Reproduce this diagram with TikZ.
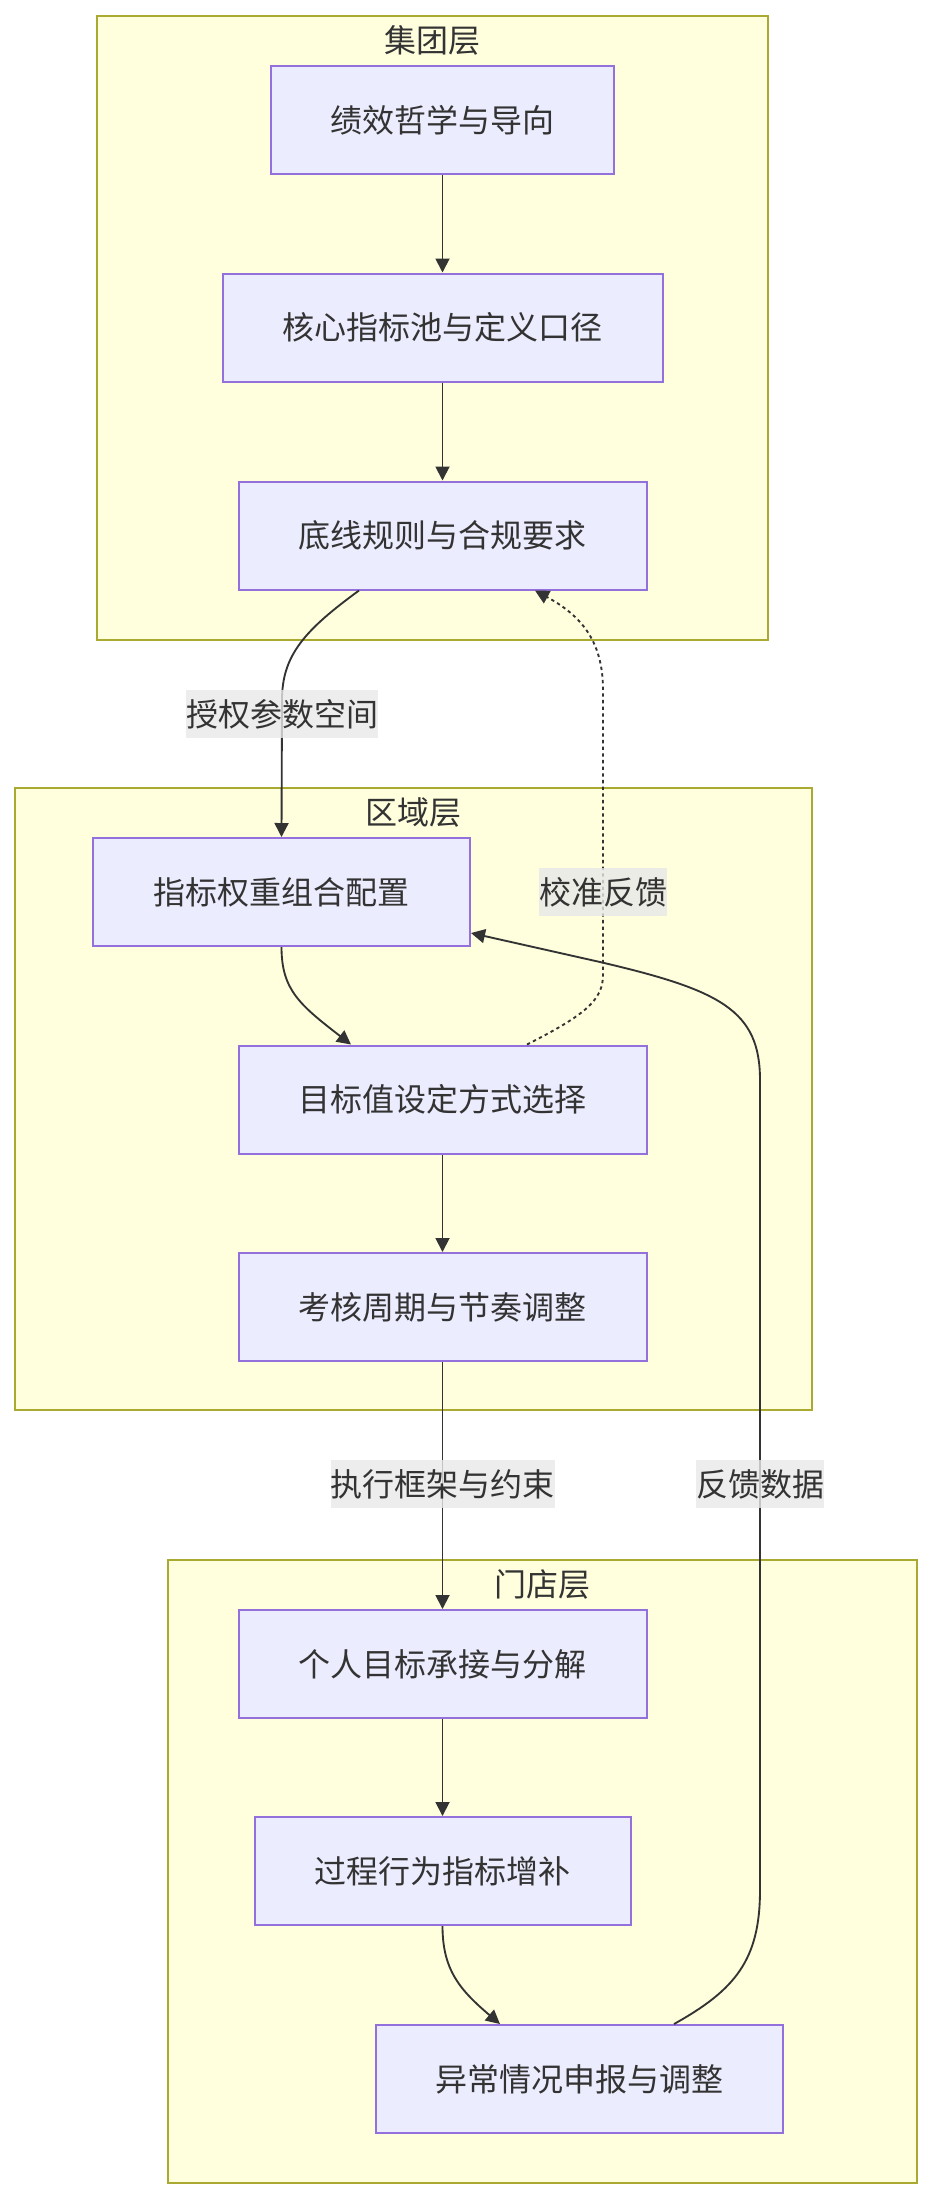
\documentclass[tikz,border=0pt]{standalone}
\usepackage{fontspec}
\setmainfont{Noto Sans CJK SC}
\usetikzlibrary{arrows.meta,calc}
\definecolor{clfill}{HTML}{FFFFDE}
\definecolor{clline}{HTML}{AAAA33}
\definecolor{ndfill}{HTML}{ECECFF}
\definecolor{ndline}{HTML}{9370DB}
\definecolor{edgec}{HTML}{333333}
\definecolor{lblbg}{HTML}{E8E8E8}
\begin{document}
\begin{tikzpicture}[x=0.75pt,y=-0.75pt,
  cluster/.style={draw=clline, fill=clfill, line width=1.5pt},
  ctitle/.style={text=edgec, inner sep=0pt, font=\fontsize{24}{28}\selectfont},
  box/.style={draw=ndline, fill=ndfill, line width=1.5pt, minimum height=81pt, inner sep=0pt, text=edgec, font=\fontsize{24}{28}\selectfont},
  arr/.style={draw=edgec, line width=1.4pt, -{Triangle[length=10.5pt,width=10.5pt]}},
  dotarr/.style={arr, dash pattern=on 2.5pt off 2.5pt},
  lbl/.style={fill=lblbg, fill opacity=0.8, text opacity=1, inner xsep=0pt, inner ysep=0pt, minimum height=36pt, text=edgec, font=\fontsize{24}{28}\selectfont}
]
\useasboundingbox (0,0) rectangle (934,2200);
% clusters
\draw[cluster] (97,16) rectangle (768,640);
\draw[cluster] (15,788) rectangle (812,1410);
\draw[cluster] (168,1560) rectangle (917,2183);
\node[ctitle] (t1) at (432.5,40) {集团层};
\node[ctitle] (t2) at (413.5,812) {区域层};
\node[ctitle] (t3) at (542.5,1584) {门店层};
% nodes
\node[box, minimum width=257.25pt] (n1) at (442.5,120) {绩效哲学与导向};
\node[box, minimum width=330pt] (n2) at (442.5,327.5) {核心指标池与定义口径};
\node[box, minimum width=306pt] (n3) at (442.5,535.5) {底线规则与合规要求};
\node[box, minimum width=282.75pt] (n4) at (281.5,892) {指标权重组合配置};
\node[box, minimum width=306pt] (n5) at (442.5,1099.5) {目标值设定方式选择};
\node[box, minimum width=306pt] (n6) at (442.5,1307) {考核周期与节奏调整};
\node[box, minimum width=306pt] (n7) at (442.5,1664) {个人目标承接与分解};
\node[box, minimum width=282pt] (n8) at (442.5,1871) {过程行为指标增补};
\node[box, minimum width=305.25pt] (n9) at (579.5,2079) {异常情况申报与调整};
% straight edges
\draw[arr] (n1.south) -- (n2.north);
\draw[arr] (n2.south) -- (n3.north);
\draw[arr] (n5.south) -- (n6.north);
\draw[arr] (n6.south) -- (n7.north);
\draw[arr] (n7.south) -- (n8.north);
% curved edges
\draw[arr] ($(n3.south)+(-83.5,0)$) .. controls (305,630) and (282,655) .. (282,700) -- (n4.north);
\draw[arr] (n4.south) .. controls (281.5,990) and (300,1005) .. ($(n5.north)+(-91.5,0)$);
\draw[dotarr] ($(n5.north)+(84.5,0)$) .. controls (585,1015) and (603,1000) .. (603,975) -- (603,690) .. controls (603,640) and (580,615) .. ($(n3.south)+(92.5,0)$);
\draw[arr] (n8.south) .. controls (442.5,1970) and (460,1990) .. ($(n9.north)+(-79.5,0)$);
\draw[arr] ($(n9.north)+(94.5,0)$) .. controls (735,1990) and (760,1960) .. (760,1890) -- (760,1080) .. controls (760,1010) and (720,990) .. (600,962) -- ($(n4.south east)+(0,-14)$);
% edge labels
\node[lbl] (l1) at (282,714) {授权参数空间};
\node[lbl] (l2) at (603,892) {校准反馈};
\node[lbl] (l3) at (442.5,1484) {执行框架与约束};
\node[lbl] (l4) at (760,1484) {反馈数据};
\end{tikzpicture}
\end{document}
